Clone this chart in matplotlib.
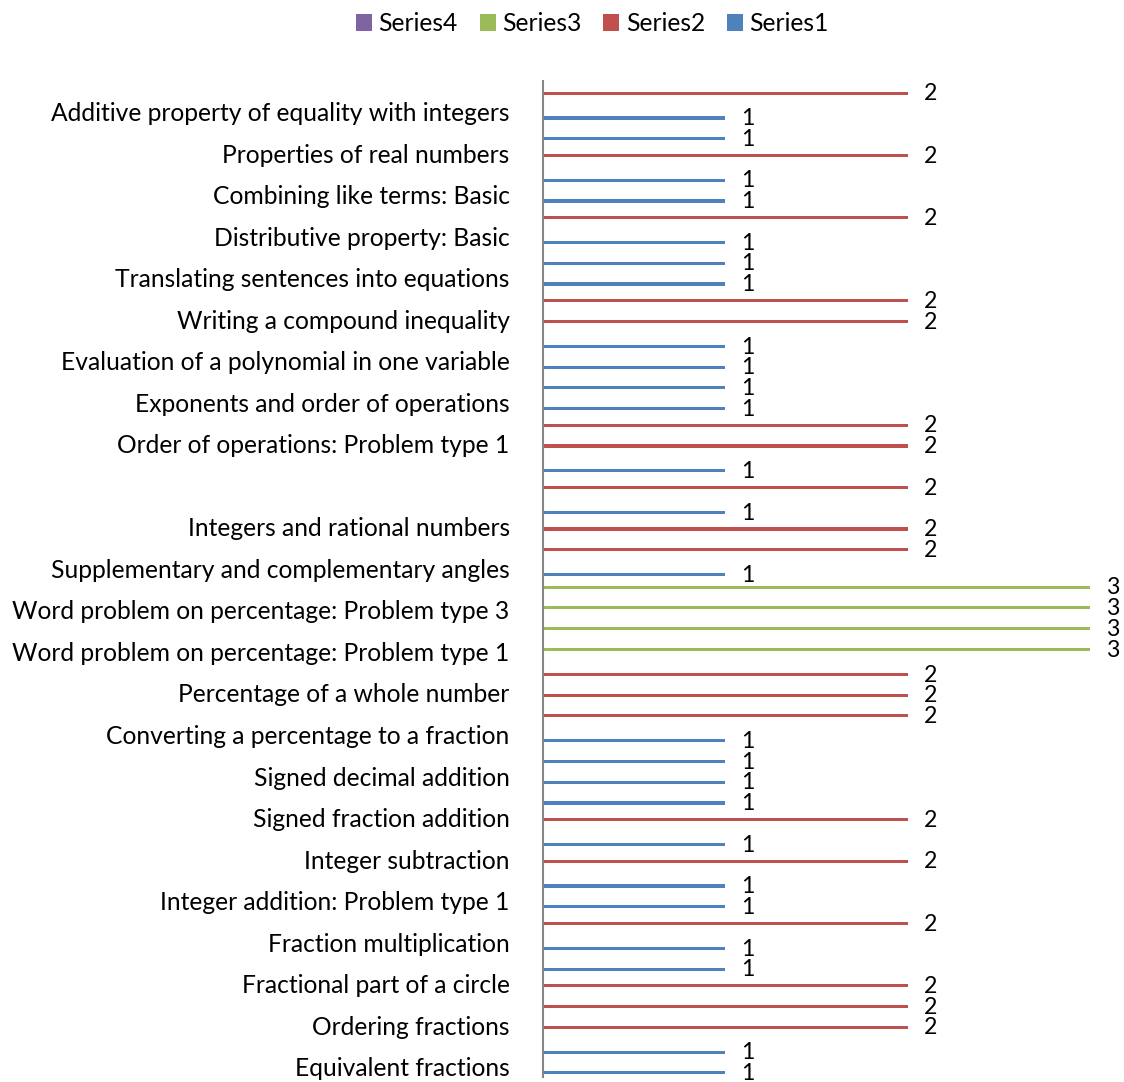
import numpy as np
import matplotlib.pyplot as plt

# Categories listed top to bottom; only every other one carries a visible label
tick_labels = [
    "Additive property of equality with integers",
    "Properties of real numbers",
    "Combining like terms: Basic",
    "Distributive property: Basic",
    "Translating sentences into equations",
    "Writing a compound inequality",
    "Evaluation of a polynomial in one variable",
    "Exponents and order of operations",
    "Order of operations: Problem type 1",
    "",
    "Integers and rational numbers",
    "Supplementary and complementary angles",
    "Word problem on percentage: Problem type 3",
    "Word problem on percentage: Problem type 1",
    "Percentage of a whole number",
    "Converting a percentage to a fraction",
    "Signed decimal addition",
    "Signed fraction addition",
    "Integer subtraction",
    "Integer addition: Problem type 1",
    "Fraction multiplication",
    "Fractional part of a circle",
    "Ordering fractions",
    "Equivalent fractions",
]

n = np.nan
series1 = [n, 1, 1, n, 1, 1, n, 1, 1, 1, n, n, 1, 1, 1, 1, n, n, 1, n, 1, n, n, 1,
           n, n, n, n, n, n, n, 1, 1, 1, 1, n, 1, n, 1, 1, n, 1, 1, n, n, n, 1, 1]
series2 = [2, n, n, 2, n, n, 2, n, n, n, 2, 2, n, n, n, n, 2, 2, n, 2, n, 2, 2, n,
           n, n, n, n, 2, 2, 2, n, n, n, n, 2, n, 2, n, n, 2, n, n, 2, 2, 2, n, n]
series3 = [n] * 24 + [3, 3, 3, 3] + [n] * 20
series4 = [n] * 48

series = [
    ("Series1", series1, "#4F81BD"),
    ("Series2", series2, "#C0504D"),
    ("Series3", series3, "#9BBB59"),
    ("Series4", series4, "#8064A2"),
]

plt.rcParams["font.family"] = ["Lato", "DejaVu Sans"]
FS = 17.75
FS_VAL = 16.7

fig = plt.figure(figsize=(11.24, 10.82), dpi=100)
ax = fig.add_axes([0.4831, 0.0046, 0.4867, 0.9209])

n_cat = len(series1)
y = np.arange(n_cat)
slot = 0.2
bar_h = 0.15

handles = {}
for i, (name, vals, color) in enumerate(series):
    vals = np.asarray(vals, dtype=float)
    # Series1 sits lowest in each cluster (y axis is inverted)
    offs = (1.5 - i) * slot
    h = ax.barh(y + offs, np.nan_to_num(vals), height=bar_h, color=color,
                linewidth=0, label=name)
    handles[name] = h
    for yy, v in zip(y + offs, vals):
        if not np.isnan(v):
            ax.annotate(f"{v:g}", (v, yy), xytext=(11.5, -0.5),
                        textcoords="offset points", ha="left", va="center",
                        fontsize=FS_VAL, annotation_clip=False)

ax.set_xlim(0, 3)
ax.set_ylim(n_cat - 0.5, -0.5)
ax.set_yticks(y[1::2])
ax.set_yticklabels(tick_labels, fontsize=FS)
ax.tick_params(axis="y", length=0, pad=24)
ax.set_xticks([])
for side in ("top", "right", "bottom"):
    ax.spines[side].set_visible(False)
ax.spines["left"].set_color("#868686")
ax.spines["left"].set_linewidth(1.5)

order = ["Series4", "Series3", "Series2", "Series1"]
fig.legend([handles[k] for k in order], order, loc="center",
           bbox_to_anchor=(0.527, 0.978), ncol=4, frameon=False,
           fontsize=FS, handlelength=0.65, handleheight=0.65,
           handletextpad=0.25, columnspacing=0.9)

fig.savefig("out.png", dpi=100)
